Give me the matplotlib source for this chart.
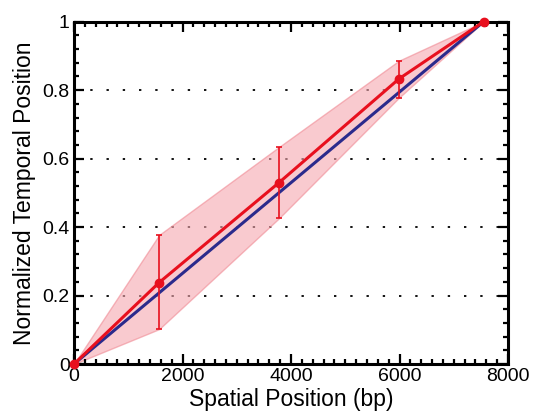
import matplotlib.pyplot as plt
from matplotlib.ticker import MultipleLocator, FormatStrFormatter

# data
pos = [0, 1570, 3780, 5990, 7550]
temporal = [0, 0.238, 0.53, 0.833, 1.0]
lower = [0, 0.102, 0.426, 0.778, 1.0]
upper = [0, 0.377, 0.634, 0.886, 1.0]
ideal_x = [0, 7550]
ideal_y = [0, 1.0]

plt.rcParams['font.family'] = ['Liberation Sans', 'DejaVu Sans']

fig = plt.figure(figsize=(5.33, 4.15), dpi=100)
ax = fig.add_axes([74/533, 1 - 364/415, 434/533, (364 - 21.7)/415])

red = '#e8101e'
blue = '#2b2a8c'

ax.fill_between(pos, lower, upper, color='#f5a8b0', alpha=0.6, linewidth=1, edgecolor='#f08a94', zorder=1)
ax.plot(ideal_x, ideal_y, color=blue, linewidth=2.2, zorder=3)
yerr = [[t - l for t, l in zip(temporal, lower)], [u - t for t, u in zip(temporal, upper)]]
ax.errorbar(pos, temporal, yerr=yerr, color=red, linewidth=2.2, marker='o', markersize=6,
            elinewidth=1.2, capsize=2.5, capthick=1.2, zorder=4, clip_on=False)

for yy in [0.2, 0.4, 0.6, 0.8]:
    ax.axhline(yy, color='black', linestyle=(0, (1.3, 7.7)), linewidth=1.3, zorder=0)

ax.set_xlim(0, 8000)
ax.set_ylim(0, 1)
ax.xaxis.set_major_locator(MultipleLocator(2000))
ax.xaxis.set_minor_locator(MultipleLocator(200))
ax.yaxis.set_major_locator(MultipleLocator(0.2))
ax.yaxis.set_minor_locator(MultipleLocator(0.04))
ax.yaxis.set_major_formatter(FormatStrFormatter('%g'))

for s in ax.spines.values():
    s.set_linewidth(2.2)
ax.tick_params(which='both', direction='in', top=True, right=True, width=1.6, labelsize=14)
ax.tick_params(which='major', length=7, pad=3)
ax.tick_params(which='minor', length=3.5)

ax.set_xlabel('Spatial Position (bp)', fontsize=16.5, labelpad=2)
ax.set_ylabel('Normalized Temporal Position', fontsize=16.5, labelpad=5)

fig.savefig('out.png', dpi=100)
